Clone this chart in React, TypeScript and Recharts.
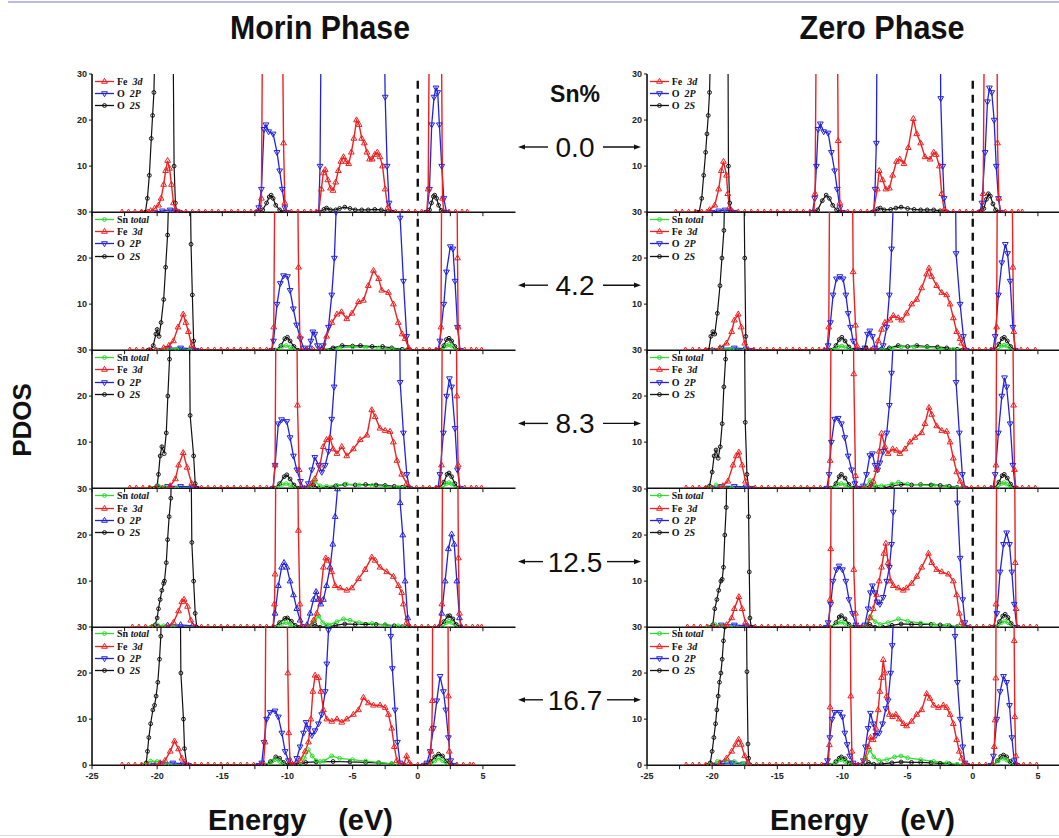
import React from "react";
import { LineChart, Line, XAxis, YAxis, ReferenceLine } from "recharts";

type Pt = [number, number];

// ---- energy grid ticks / labels ----
const X_TICKS = [-25, -22.5, -20, -17.5, -15, -12.5, -10, -7.5, -5, -2.5, 0, 2.5, 5];
const Y_TICKS = [10, 20, 30];
const Y_TICKS_LAST = [0, 10, 20, 30];
const SN_LEVELS = ["0.0", "4.2", "8.3", "12.5", "16.7"];
const PHASES = ["Morin Phase", "Zero Phase"];

// ---- Morin phase, Sn 0.0 % ----
const M0_FE: Pt[] = [[-22.7,0],[-22.2,0],[-21.7,0],[-21.2,0],[-20.7,0],[-20.5,0.3],[-20.2,0.8],[-19.9,1.5],[-19.7,3],[-19.5,6],[-19.35,9],[-19.2,11.2],[-19.05,9.5],[-18.9,6],[-18.75,2],[-18.6,0.3],[-18.3,0],[-17.8,0],[-17.3,0],[-16.8,0],[-16.3,0],[-15.8,0],[-15.3,0],[-14.8,0],[-14.3,0],[-13.8,0],[-13.3,0],[-12.8,0],[-12.4,0],[-12.1,0],[-12.0,3],[-11.9,45],[-11.1,60],[-10.4,45],[-10.3,15],[-10.2,2],[-10.1,0],[-9.7,0],[-9.2,0],[-8.7,0],[-8.2,0],[-7.8,0],[-7.6,0],[-7.4,5],[-7.25,8.5],[-7.1,9.2],[-6.9,7],[-6.7,5.2],[-6.5,4.7],[-6.3,6.5],[-6.1,9],[-5.9,11],[-5.7,12],[-5.5,11],[-5.3,10.5],[-5.1,13],[-4.9,16],[-4.7,20],[-4.5,19],[-4.3,16],[-4.1,15],[-3.9,13],[-3.7,11.5],[-3.5,11.5],[-3.3,12.5],[-3.1,13],[-2.9,12],[-2.7,10],[-2.5,5],[-2.3,1],[-2.1,0],[-1.7,0],[-1.2,0],[-0.7,0],[-0.2,0],[0.3,0],[0.7,0],[0.8,5],[0.9,45],[1.35,60],[1.8,45],[1.9,3],[2.0,0],[2.4,0],[2.9,0],[3.4,0],[3.8,0]];
const M0_O2P: Pt[] = [[-20.2,0],[-19.6,0.3],[-19.0,0.5],[-18.6,0.3],[-18.3,0],[-12.3,0],[-12.2,1],[-12.0,5],[-11.8,18],[-11.65,19],[-11.45,17.5],[-11.1,17],[-10.8,13],[-10.6,9],[-10.4,5],[-10.2,1],[-10.05,0],[-7.6,0],[-7.5,10],[-7.4,45],[-5,60],[-2.6,45],[-2.5,25],[-2.35,10],[-2.2,2],[-2.0,0],[0.7,0],[0.9,5],[1.07,19],[1.25,25],[1.4,27],[1.53,26],[1.66,19],[1.84,10],[2.0,3],[2.2,0]];
const M0_O2S: Pt[] = [[-21.2,0],[-20.9,0],[-20.75,3],[-20.6,8],[-20.45,16],[-20.35,21],[-20.25,26],[-20.1,45],[-19.4,60],[-18.8,45],[-18.7,10],[-18.6,2],[-18.5,0],[-12.2,0],[-11.9,0.5],[-11.6,2],[-11.4,3.3],[-11.25,3.7],[-11.1,3],[-10.9,1.5],[-10.6,0.5],[-10.3,0],[-7.6,0],[-7.2,0.6],[-7.0,0.9],[-6.7,0.5],[-6.3,0.5],[-6.0,0.8],[-5.6,1.1],[-5.2,0.8],[-4.8,0.5],[-4.3,0.5],[-3.8,0.5],[-3.3,0.6],[-2.8,0.5],[-2.3,0.2],[-2.0,0],[0.7,0],[0.9,0.5],[1.05,2],[1.2,3.4],[1.3,3.7],[1.45,3],[1.6,1.5],[1.8,0.4],[2.0,0]];

// ---- Zero phase, Sn 0.0 % ----
const Z0_FE: Pt[] = [[-22.8,0],[-22.3,0],[-21.8,0],[-21.3,0],[-20.8,0],[-20.4,0],[-20.2,0.5],[-19.8,1.5],[-19.5,5],[-19.3,9],[-19.13,11],[-18.9,8],[-18.8,4],[-18.67,1],[-18.5,0],[-18.0,0],[-17.5,0],[-17,0],[-16.5,0],[-16,0],[-15.5,0],[-15,0],[-14.5,0],[-14,0],[-13.5,0],[-13,0],[-12.5,0],[-12.2,0],[-12.1,4],[-12.0,45],[-11.2,60],[-10.4,45],[-10.33,15.5],[-10.2,2],[-10.1,0],[-9.6,0],[-9.1,0],[-8.6,0],[-8.1,0],[-7.64,0],[-7.33,5],[-7.18,9],[-6.92,7],[-6.67,5],[-6.4,5.2],[-6.15,8],[-5.85,11],[-5.6,11.5],[-5.28,10.5],[-4.95,14],[-4.56,20.3],[-4.3,17],[-4.0,15],[-3.67,12],[-3.28,11.5],[-3.0,13],[-2.82,12.5],[-2.56,10],[-2.38,4],[-2.2,0.5],[-2.0,0],[-1.5,0],[-1.0,0],[-0.5,0],[0,0],[0.5,0],[0.7,0],[0.8,4],[0.9,45],[1.4,60],[1.85,45],[1.9,15],[2.0,3],[2.1,0],[2.5,0],[3.0,0],[3.5,0],[3.8,0]];
const Z0_O2P: Pt[] = [[-20,0],[-19.5,0.3],[-19,0.5],[-18.6,0.3],[-18.3,0],[-12.3,0],[-12.13,3],[-12.0,10],[-11.87,18],[-11.7,19.2],[-11.44,17.5],[-11.1,17.2],[-10.85,13],[-10.6,9],[-10.4,5],[-10.2,1],[-10.0,0],[-7.6,0],[-7.5,5],[-7.4,15],[-7.33,45],[-5,60],[-2.5,45],[-2.46,24.7],[-2.3,10],[-2.2,3],[-2.05,0],[0.55,0],[0.7,2],[0.95,13],[1.13,24],[1.28,27],[1.46,26],[1.64,20],[1.8,10],[1.97,3],[2.15,0]];
const Z0_O2S: Pt[] = [[-21.2,0],[-21,0],[-20.8,3],[-20.65,8],[-20.5,13],[-20.4,17],[-20.3,21],[-20.2,26],[-20.05,45],[-19.4,60],[-18.8,45],[-18.75,10],[-18.65,2],[-18.55,0],[-12.2,0],[-11.9,0.5],[-11.55,2.5],[-11.25,3.7],[-11.0,3],[-10.75,1.5],[-10.45,0.5],[-10.2,0],[-7.7,0],[-7.3,0.7],[-7.1,0.9],[-6.8,0.5],[-6.3,0.6],[-5.9,0.9],[-5.5,1.1],[-5.0,0.8],[-4.5,0.6],[-4.0,0.5],[-3.5,0.5],[-3.0,0.5],[-2.5,0.3],[-2.1,0],[0.6,0],[0.85,0.8],[1.05,2.8],[1.2,4],[1.35,3.5],[1.55,1.8],[1.75,0.5],[1.95,0]];

// ---- Morin phase, Sn 4.2 % ----
const M4_FE: Pt[] = [[-22.1,0],[-21.6,0],[-21.1,0],[-20.6,0],[-20.1,0],[-19.5,0.5],[-19.1,1],[-18.75,2],[-18.4,5],[-18.0,7.8],[-17.8,6],[-17.6,4],[-17.35,1],[-17.1,0],[-16.6,0],[-16.1,0],[-15.6,0],[-15.1,0],[-14.6,0],[-14.1,0],[-13.6,0],[-13.1,0],[-12.6,0],[-12.1,0],[-11.6,0],[-11.2,0],[-11.05,5],[-10.95,45],[-10.1,60],[-9.25,45],[-9.15,18],[-9.05,3],[-8.95,0],[-8.5,0],[-8.0,0],[-7.6,0],[-7.25,0],[-7.0,3],[-6.6,6],[-6.2,7.8],[-5.85,8.3],[-5.45,6.8],[-5.05,8],[-4.55,10.5],[-4.17,10.8],[-3.8,14],[-3.4,17.3],[-3.0,15.5],[-2.76,13],[-2.25,12.5],[-1.87,10],[-1.5,6],[-1.2,3.5],[-0.97,2.5],[-0.7,0.5],[-0.6,0],[-0.1,0],[0.4,0],[0.9,0],[1.4,0],[1.65,0],[1.78,5],[1.85,45],[2.45,60],[3.0,45],[3.05,20],[3.1,5],[3.2,0],[3.6,0],[4.1,0],[4.5,0],[4.9,0]];
const M4_O2P: Pt[] = [[-20,0],[-19.2,0.4],[-18.2,0.5],[-17.3,0.3],[-17,0],[-11.2,0],[-11.07,2],[-10.8,10],[-10.55,14.5],[-10.3,16.2],[-10.0,16],[-9.8,13],[-9.55,9],[-9.3,5.5],[-9.0,2.5],[-8.77,0.5],[-8.5,0],[-8.3,0.5],[-8.2,2],[-8.05,4],[-7.9,3.5],[-7.7,1],[-7.5,0.3],[-7.25,1],[-6.85,5],[-6.6,12],[-6.4,20],[-6.27,30],[-6.15,45],[-3.8,60],[-1.45,45],[-1.35,28.7],[-1.1,15],[-0.85,3],[-0.7,0],[1.55,0],[1.7,2],[2.0,10],[2.2,17],[2.5,22.5],[2.7,22],[2.86,15],[3.05,5],[3.25,0]];
const M4_O2S: Pt[] = [[-20.7,0],[-20.5,0],[-20.3,1],[-20.1,3.5],[-20.0,4.5],[-19.85,3],[-19.7,6],[-19.5,11],[-19.35,18],[-19.2,25],[-19.0,45],[-18.2,60],[-17.5,45],[-17.4,23],[-17.3,12],[-17.2,2],[-17.1,0],[-10.9,0],[-10.5,1],[-10.2,2.5],[-10.0,2.8],[-9.8,2],[-9.5,0.8],[-9.2,0],[-7.2,0],[-6.5,0.5],[-5.8,1],[-5.0,0.9],[-4.4,1],[-3.5,0.8],[-2.7,0.8],[-2.0,0.5],[-1.2,0.2],[-0.8,0],[1.7,0],[2.0,1],[2.2,2.3],[2.4,2.6],[2.6,2],[2.85,0.8],[3.1,0]];
const M4_SN: Pt[] = [[-20,0],[-19.3,0.3],[-18.5,0.2],[-17.5,0],[-10.8,0],[-10.4,0.8],[-10.1,1.0],[-9.8,0.7],[-9.5,0],[-7,0],[-6.0,0.5],[-5,0.7],[-4,0.6],[-3,0.5],[-2,0.3],[-1,0],[1.9,0],[2.2,1.0],[2.4,1.2],[2.6,0.9],[2.9,0]];

// ---- Zero phase, Sn 4.2 % ----
const Z4_FE: Pt[] = [[-22.05,0],[-21.5,0],[-21,0],[-20.5,0],[-20,0],[-19.4,0.5],[-18.9,1.5],[-18.5,4],[-18.3,6.5],[-18.0,7.8],[-17.77,5],[-17.5,1.5],[-17.26,0],[-16.8,0],[-16.3,0],[-15.8,0],[-15.3,0],[-14.8,0],[-14.3,0],[-13.8,0],[-13.3,0],[-12.8,0],[-12.3,0],[-11.8,0],[-11.4,0],[-11.2,0],[-11.05,5],[-10.97,45],[-10.1,60],[-9.25,45],[-9.18,17],[-9.0,5.4],[-8.9,1],[-8.8,0],[-8.2,0],[-7.8,0],[-7.5,0],[-7.26,2],[-7.0,4.5],[-6.74,6],[-6.36,6.5],[-6.1,7.5],[-5.72,7],[-5.46,6.5],[-5.08,8],[-4.69,10],[-4.3,11],[-3.92,13.5],[-3.54,16.5],[-3.36,17.8],[-3.15,16],[-2.77,14],[-2.38,12.5],[-2.0,12],[-1.74,10],[-1.49,7],[-1.23,4],[-0.97,2.5],[-0.85,1.5],[-0.67,0.3],[-0.5,0],[0,0],[0.5,0],[1.0,0],[1.4,0],[1.7,0],[1.83,5],[1.9,45],[2.45,60],[3.0,45],[3.08,18],[3.15,4],[3.25,0],[3.7,0],[4.2,0],[4.8,0]];
const Z4_O2P: Pt[] = [[-20,0],[-19.3,0.4],[-18.3,0.5],[-17.4,0.3],[-17,0],[-11.25,0],[-11.1,1],[-10.92,6],[-10.72,12],[-10.46,15.5],[-10.2,16],[-9.95,15.5],[-9.74,12],[-9.56,8],[-9.38,5],[-9.18,2],[-8.92,0],[-8.5,0],[-8.28,0.5],[-8.08,3.5],[-7.9,4.2],[-7.7,3],[-7.5,0.5],[-7.33,0],[-6.87,1],[-6.6,5],[-6.4,12],[-6.23,22],[-6.1,32],[-6.0,45],[-3.7,60],[-1.35,45],[-1.28,21],[-0.97,10],[-0.72,3],[-0.5,0],[1.55,0],[1.72,3],[1.97,12],[2.23,19],[2.5,23],[2.67,21],[2.87,15],[3.08,5],[3.26,0]];
const Z4_O2S: Pt[] = [[-20.5,0],[-20.26,0],[-20.1,3],[-19.95,4],[-19.8,3.5],[-19.6,8],[-19.4,14],[-19.25,20],[-19.1,26],[-18.95,45],[-18.3,60],[-17.6,45],[-17.5,20],[-17.42,3],[-17.35,0],[-10.9,0],[-10.5,1],[-10.25,2.3],[-10.05,2.8],[-9.8,2],[-9.5,0.7],[-9.2,0],[-8.6,0],[-8.2,0.5],[-7.8,0],[-7.0,0],[-6.4,0.5],[-5.72,1.0],[-5.0,0.8],[-4.3,1.0],[-3.5,0.8],[-2.7,0.7],[-2.0,0.5],[-1.2,0.2],[-0.8,0],[1.7,0],[2.0,1.3],[2.25,2.5],[2.42,2.8],[2.65,2],[2.9,0.8],[3.15,0]];
const Z4_SN: Pt[] = [[-20,0],[-19.4,0.3],[-18.5,0.2],[-17.5,0],[-10.7,0],[-10.35,0.7],[-10.05,0.9],[-9.75,0.6],[-9.4,0],[-7,0],[-6.2,0.4],[-5.5,0.7],[-4.5,0.7],[-3.5,0.6],[-2.5,0.4],[-1.5,0.2],[-1,0],[1.9,0],[2.2,0.9],[2.4,1.1],[2.6,0.9],[2.9,0]];

// ---- Morin phase, Sn 8.3 % ----
const M8_FE: Pt[] = [[-22.1,0],[-21.6,0],[-21.1,0],[-20.6,0],[-20.1,0],[-19.6,0],[-19.0,0.5],[-18.6,2],[-18.35,5],[-18.0,7.7],[-17.7,4.5],[-17.35,1],[-17.1,0],[-16.6,0],[-16.1,0],[-15.6,0],[-15.1,0],[-14.6,0],[-14.1,0],[-13.6,0],[-13.1,0],[-12.6,0],[-12.1,0],[-11.6,0],[-11.1,0],[-10.95,5],[-10.87,45],[-10.05,60],[-9.3,45],[-9.23,18],[-9.1,4],[-9.0,0],[-8.7,0],[-8.4,0],[-8.13,1],[-7.9,2],[-7.5,5],[-7.25,9],[-7.0,10.5],[-6.73,11],[-6.5,8.5],[-6.2,7.5],[-5.83,9],[-5.45,7],[-4.94,8.5],[-4.42,10.5],[-3.9,11.5],[-3.53,17],[-3.27,15.5],[-2.9,13],[-2.5,12.5],[-2.12,12.3],[-1.87,10],[-1.6,6],[-1.23,3],[-0.84,1],[-0.6,0],[-0.1,0],[0.4,0],[0.9,0],[1.4,0],[1.7,0],[1.82,5],[1.9,45],[2.45,60],[2.95,45],[3.0,20],[3.1,5],[3.2,0],[3.6,0],[4.1,0],[4.5,0],[4.9,0]];
const M8_O2P: Pt[] = [[-20,0],[-19.2,0.4],[-18.2,0.4],[-17.3,0.3],[-17,0],[-11.1,0],[-10.95,5],[-10.7,14],[-10.45,14.9],[-10.05,14.5],[-9.8,11],[-9.54,7],[-9.28,4],[-9.0,1.5],[-8.77,0],[-8.6,0],[-8.4,1],[-8.13,4],[-7.9,6.7],[-7.6,5],[-7.37,3.5],[-7.1,5],[-6.85,8],[-6.6,15],[-6.42,22],[-6.2,32],[-6.1,45],[-3.7,60],[-1.42,45],[-1.35,23],[-1.1,12],[-0.84,3],[-0.64,0],[1.55,0],[1.7,3],[1.97,12],[2.22,20],[2.43,23.8],[2.6,22],[2.86,13],[3.04,4],[3.25,0]];
const M8_O2S: Pt[] = [[-20.5,0],[-20.2,0],[-20.0,0.5],[-19.9,3],[-19.77,7],[-19.64,9],[-19.46,7.5],[-19.3,12],[-19.18,20],[-19.05,28],[-18.93,45],[-18.2,60],[-17.55,45],[-17.47,15.8],[-17.2,7],[-17.08,1],[-16.96,0],[-11.0,0],[-10.6,1],[-10.25,2.5],[-10.05,2.9],[-9.8,2],[-9.5,0.7],[-9.2,0],[-8.4,0],[-8.0,0.7],[-7.6,0],[-7.0,0],[-6.3,0.5],[-5.6,0.8],[-4.8,0.7],[-4.0,0.8],[-3.2,0.7],[-2.5,0.6],[-1.8,0.4],[-1.2,0.2],[-0.8,0],[1.7,0],[2.0,1.3],[2.25,3],[2.4,3.3],[2.6,2.5],[2.85,1],[3.1,0]];
const M8_SN: Pt[] = [[-20.4,0],[-19.9,0.5],[-19.4,0.2],[-18.5,0],[-10.8,0],[-10.4,0.8],[-10.1,1.0],[-9.8,0.7],[-9.5,0],[-8.3,0],[-7.9,1.5],[-7.5,0.5],[-7.0,0.4],[-6.2,0.6],[-5.5,0.9],[-4.5,0.7],[-3.5,0.6],[-2.5,0.4],[-1.5,0.2],[-1,0],[1.9,0],[2.2,1.0],[2.4,1.2],[2.6,0.9],[2.9,0]];

// ---- Zero phase, Sn 8.3 % ----
const Z8_FE: Pt[] = [[-22,0],[-21.5,0],[-21,0],[-20.5,0],[-20,0],[-19.5,0],[-19.18,0.5],[-18.8,1.5],[-18.4,5],[-18.15,7],[-17.95,7.8],[-17.7,5],[-17.44,1.5],[-17.2,0],[-16.7,0],[-16.2,0],[-15.7,0],[-15.2,0],[-14.7,0],[-14.2,0],[-13.7,0],[-13.2,0],[-12.7,0],[-12.2,0],[-11.7,0],[-11.1,0],[-10.95,6],[-10.85,45],[-10.0,60],[-9.2,45],[-9.13,24.8],[-9.0,2.7],[-8.9,0],[-8.4,0],[-7.9,0],[-7.64,1.5],[-7.38,4],[-7.18,8],[-7.0,11.9],[-6.74,9],[-6.5,7.5],[-6.15,8.5],[-5.85,8.2],[-5.6,7.5],[-5.2,8.5],[-4.82,10],[-4.44,11],[-3.92,12],[-3.67,14],[-3.36,17.5],[-3.15,16],[-2.77,13.5],[-2.38,12.5],[-2.0,12.3],[-1.74,10],[-1.49,6.5],[-1.23,3.5],[-0.97,1.5],[-0.77,0.3],[-0.6,0],[-0.1,0],[0.4,0],[0.9,0],[1.4,0],[1.65,0],[1.78,5],[1.85,45],[2.45,60],[3.05,45],[3.13,18],[3.2,4],[3.3,0],[3.8,0],[4.3,0],[4.8,0]];
const Z8_O2P: Pt[] = [[-20,0],[-19.3,0.4],[-18.3,0.4],[-17.4,0.3],[-17,0],[-11.2,0],[-11.03,3],[-10.85,10],[-10.6,15],[-10.33,15.2],[-10.08,14],[-9.82,11],[-9.56,7],[-9.3,4],[-9.05,1],[-8.87,0],[-8.6,0],[-8.4,0.5],[-8.15,3],[-7.9,7.1],[-7.7,7.5],[-7.5,5],[-7.3,4],[-7.13,5.5],[-6.87,8],[-6.6,12],[-6.4,18],[-6.23,25],[-6.1,32],[-6.0,45],[-3.7,60],[-1.35,45],[-1.28,23],[-1.03,12],[-0.8,3],[-0.6,0],[1.55,0],[1.72,3],[1.97,12],[2.23,20],[2.44,24],[2.6,22],[2.87,14],[3.08,5],[3.26,0]];
const Z8_O2S: Pt[] = [[-20.5,0],[-20.2,0.5],[-20.0,3.5],[-19.85,7],[-19.7,8.3],[-19.54,6.5],[-19.38,9],[-19.23,14],[-19.1,22],[-18.97,28],[-18.87,45],[-18.2,60],[-17.55,45],[-17.46,14.3],[-17.33,3],[-17.2,0],[-10.9,0],[-10.5,1],[-10.25,2.5],[-10.08,3],[-9.8,2.2],[-9.5,0.8],[-9.2,0],[-8.3,0],[-7.8,0.8],[-7.4,0],[-6.8,0],[-6.2,0.5],[-5.5,0.8],[-4.7,0.7],[-4.0,0.8],[-3.2,0.7],[-2.5,0.6],[-1.8,0.4],[-1.2,0.2],[-0.8,0],[1.7,0],[2.0,1.3],[2.25,2.7],[2.42,3],[2.65,2.2],[2.9,0.9],[3.15,0]];
const Z8_SN: Pt[] = [[-20.2,0],[-19.7,0.7],[-19.2,0.3],[-18.5,0],[-10.7,0],[-10.35,0.8],[-10.1,1.0],[-9.8,0.7],[-9.4,0],[-8.3,0],[-7.9,1.7],[-7.5,0.6],[-7.0,0.5],[-6.2,0.9],[-5.7,1.3],[-5.0,0.9],[-4.0,0.7],[-3.0,0.6],[-2.0,0.4],[-1.2,0.1],[-0.8,0],[1.9,0],[2.2,1.0],[2.4,1.2],[2.6,0.9],[2.9,0]];

// ---- Morin phase, Sn 12.5 % ----
const M12_FE: Pt[] = [[-21.9,0],[-21.4,0],[-20.9,0],[-20.4,0],[-19.9,0],[-19.3,0],[-18.75,1],[-18.36,3.5],[-18.1,5.5],[-17.93,6],[-17.67,4.5],[-17.42,1.5],[-17.08,0],[-16.6,0],[-16.1,0],[-15.6,0],[-15.1,0],[-14.6,0],[-14.1,0],[-13.6,0],[-13.1,0],[-12.6,0],[-12.1,0],[-11.6,0],[-11.1,0],[-11.0,5],[-10.95,11.5],[-10.87,45],[-10.0,60],[-9.25,45],[-9.16,21],[-9.05,5],[-8.95,0],[-8.65,0],[-8.4,0],[-8.0,1.5],[-7.75,3],[-7.5,6],[-7.24,13],[-7.06,15],[-6.85,14.5],[-6.6,12],[-6.34,9],[-5.96,8.5],[-5.45,8],[-5.06,8.5],[-4.55,10.5],[-4.04,12.5],[-3.53,15.2],[-3.27,14.5],[-2.89,13],[-2.38,12],[-1.87,11],[-1.48,9],[-1.23,7.5],[-1.1,5],[-0.84,1],[-0.64,0],[-0.2,0],[0.3,0],[0.8,0],[1.3,0],[1.7,0],[1.85,5],[1.92,45],[2.5,60],[3.05,45],[3.12,15],[3.2,3],[3.3,0],[3.7,0],[4.2,0],[4.6,0],[4.9,0]];
const M12_O2P: Pt[] = [[-20,0],[-19.2,0.4],[-18.2,0.5],[-17.3,0.3],[-17,0],[-11.1,0],[-10.95,3],[-10.7,9],[-10.45,13],[-10.26,14],[-10.05,13],[-9.8,10],[-9.54,7],[-9.28,4],[-9.03,1.5],[-8.77,0],[-8.6,0],[-8.5,0.5],[-8.26,3],[-8.0,6],[-7.8,7.7],[-7.62,6],[-7.44,5],[-7.24,6],[-7.0,9],[-6.73,13],[-6.52,18],[-6.34,24],[-6.16,30],[-6.05,45],[-3.7,60],[-1.42,45],[-1.35,27],[-1.15,20],[-0.97,10],[-0.77,2],[-0.6,0],[1.6,0],[1.84,3],[2.1,10],[2.35,17],[2.6,20.2],[2.8,18],[3.0,10],[3.2,2],[3.37,0]];
const M12_O2S: Pt[] = [[-20.4,0],[-20.15,0.5],[-20.0,2],[-19.9,4],[-19.77,6],[-19.64,8],[-19.5,9.5],[-19.44,10],[-19.3,14],[-19.2,19],[-19.08,24],[-18.95,28],[-18.83,45],[-18.1,60],[-17.42,45],[-17.34,18.4],[-17.2,10],[-17.08,3],[-16.96,0],[-11.0,0],[-10.6,1],[-10.2,1.9],[-10.0,2],[-9.7,1.3],[-9.4,0.4],[-9.1,0],[-8.3,0],[-7.9,0.6],[-7.5,0],[-7.0,0],[-6.3,0.4],[-5.6,0.7],[-4.8,0.6],[-4.0,0.6],[-3.2,0.6],[-2.5,0.5],[-1.8,0.3],[-1.2,0.1],[-0.8,0],[1.7,0],[2.0,1.2],[2.3,2.4],[2.45,2.5],[2.7,1.8],[2.95,0.6],[3.2,0]];
const M12_SN: Pt[] = [[-20.5,0],[-20.0,0.5],[-19.5,0.3],[-18.8,0],[-10.8,0],[-10.4,0.8],[-10.1,1.0],[-9.8,0.7],[-9.5,0],[-8.3,0],[-7.9,1.5],[-7.6,2.4],[-7.3,1.0],[-7.0,0.5],[-6.8,0.5],[-6.2,1.2],[-5.7,1.8],[-5.2,1.5],[-4.5,1.0],[-3.5,0.8],[-2.5,0.5],[-1.5,0.3],[-1,0],[1.9,0],[2.2,1.0],[2.4,1.3],[2.6,1.0],[2.9,0]];

// ---- Zero phase, Sn 12.5 % ----
const Z12_FE: Pt[] = [[-21.9,0],[-21.4,0],[-20.9,0],[-20.4,0],[-19.9,0],[-19.4,0],[-18.9,0.5],[-18.5,2],[-18.3,4],[-17.95,6.6],[-17.7,4],[-17.44,1],[-17.2,0],[-16.7,0],[-16.2,0],[-15.7,0],[-15.2,0],[-14.7,0],[-14.2,0],[-13.7,0],[-13.2,0],[-12.7,0],[-12.2,0],[-11.7,0],[-11.05,0],[-10.95,6],[-10.9,17],[-10.85,45],[-10.0,60],[-9.2,45],[-9.13,12.5],[-9.0,3],[-8.9,0],[-8.5,0],[-8.15,0],[-7.9,2],[-7.64,4],[-7.38,7],[-7.18,10],[-7.0,13],[-6.82,16],[-6.67,18.2],[-6.5,14],[-6.3,10],[-6.1,9],[-5.72,8.5],[-5.33,8],[-5.08,8.5],[-4.7,9.5],[-4.3,11],[-3.92,13],[-3.4,16],[-3.15,14],[-2.77,12.5],[-2.38,12],[-1.87,11.5],[-1.49,10],[-1.23,7],[-1.03,3],[-0.85,1],[-0.67,0],[-0.2,0],[0.3,0],[0.8,0],[1.3,0],[1.65,0],[1.78,5],[1.85,45],[2.5,60],[3.2,45],[3.26,14],[3.32,4],[3.4,0],[3.9,0],[4.4,0],[4.9,0]];
const Z12_O2P: Pt[] = [[-20,0],[-19.3,0.5],[-18.3,0.5],[-17.4,0.3],[-17,0],[-11.25,0],[-11.1,1],[-10.9,5],[-10.72,10],[-10.46,12.5],[-10.26,13.3],[-10.0,12.5],[-9.74,10],[-9.5,6],[-9.23,3],[-8.97,0.5],[-8.8,0],[-8.5,0],[-8.28,0.5],[-8.03,4],[-7.85,7.5],[-7.7,9],[-7.5,7.5],[-7.33,5.5],[-7.13,5],[-6.87,6.5],[-6.6,10],[-6.4,13],[-6.23,18],[-6.1,25],[-5.97,33],[-5.85,45],[-3.5,60],[-1.25,45],[-1.18,27],[-0.97,15],[-0.77,6],[-0.6,1],[-0.46,0],[1.6,0],[1.85,3],[2.1,12],[2.36,18],[2.6,20.5],[2.82,18],[3.0,12],[3.18,5],[3.38,0]];
const Z12_O2S: Pt[] = [[-20.3,0],[-19.95,0.5],[-19.8,4],[-19.64,6],[-19.5,8],[-19.33,10],[-19.23,10.4],[-19.13,13],[-19.03,20],[-18.92,26],[-18.82,45],[-18.0,60],[-17.3,45],[-17.2,24],[-17.15,12],[-17.1,2],[-17.0,0],[-10.9,0],[-10.5,1],[-10.25,2.2],[-10.08,2.5],[-9.8,1.8],[-9.5,0.6],[-9.2,0],[-8.3,0],[-7.9,0.6],[-7.5,0],[-6.9,0],[-6.2,0.4],[-5.5,0.7],[-4.7,0.6],[-4.0,0.6],[-3.2,0.6],[-2.5,0.5],[-1.8,0.3],[-1.2,0.1],[-0.8,0],[1.75,0],[2.05,1.2],[2.3,2.4],[2.49,2.8],[2.7,2.1],[2.95,0.8],[3.2,0]];
const Z12_SN: Pt[] = [[-20.3,0],[-19.8,0.6],[-19.3,0.3],[-18.6,0],[-10.8,0],[-10.4,0.9],[-10.1,1.1],[-9.8,0.8],[-9.4,0],[-8.3,0],[-7.85,2.4],[-7.5,1.2],[-7.1,0.6],[-6.5,1.0],[-5.7,1.8],[-5.0,1.3],[-4.0,0.9],[-3.0,0.6],[-2.0,0.4],[-1.2,0.1],[-0.8,0],[1.9,0],[2.2,1.0],[2.45,1.3],[2.7,1.0],[3.0,0]];

// ---- Morin phase, Sn 16.7 % ----
const M16_FE: Pt[] = [[-22.7,0],[-22.2,0],[-21.7,0],[-21.2,0],[-20.7,0],[-20.2,0],[-19.77,0.5],[-19.4,1],[-19.0,3],[-18.67,5.2],[-18.36,3.5],[-18.1,1.5],[-17.85,0.3],[-17.6,0],[-17.1,0],[-16.6,0],[-16.1,0],[-15.6,0],[-15.1,0],[-14.6,0],[-14.1,0],[-13.6,0],[-13.1,0],[-12.6,0],[-12.1,0],[-11.85,0],[-11.72,5],[-11.64,45],[-10.8,60],[-10.05,45],[-9.97,20],[-9.9,7],[-9.8,1],[-9.7,0],[-9.54,0],[-9.03,1],[-8.64,3],[-8.39,5],[-8.2,10],[-8.05,16],[-7.88,19.5],[-7.62,19],[-7.44,16],[-7.24,12],[-6.98,10],[-6.6,9.5],[-6.2,10],[-5.83,9.3],[-5.45,10],[-4.94,11],[-4.55,12],[-4.17,14.7],[-3.79,13.5],[-3.4,13],[-2.89,13],[-2.5,12.5],[-2.25,11],[-2.0,8],[-1.8,4],[-1.6,1],[-1.4,0],[-1.1,0],[-0.85,2],[-0.65,0.5],[-0.5,0],[0,0],[0.5,0],[0.9,0],[1.0,3],[1.08,8],[1.12,14],[1.15,45],[1.7,60],[2.3,45],[2.35,15],[2.42,3],[2.5,0],[3.0,0],[3.5,0],[4.0,0],[4.27,0]];
const M16_O2P: Pt[] = [[-20.3,0],[-19.6,0.4],[-18.8,0.5],[-18.0,0.3],[-17.6,0],[-12.2,0],[-11.97,0.5],[-11.8,5],[-11.6,10],[-11.33,11.5],[-10.95,11.8],[-10.7,10.5],[-10.43,7],[-10.18,3],[-9.92,1],[-9.67,0],[-9.54,0],[-9.28,1.5],[-9.03,4],[-8.77,7],[-8.57,9.3],[-8.39,8],[-8.13,6.5],[-7.88,7.5],[-7.62,9],[-7.37,11],[-7.1,16],[-6.98,22],[-6.85,29.3],[-6.75,45],[-4.4,60],[-2.15,45],[-2.07,28],[-1.95,21],[-1.74,12],[-1.56,5],[-1.36,0.5],[-1.15,0],[0.5,0],[0.7,0.5],[0.95,3],[1.2,8],[1.46,14],[1.71,19.3],[1.97,16],[2.15,12],[2.35,6],[2.53,1],[2.74,0]];
const M16_O2S: Pt[] = [[-21.1,0],[-20.84,0.5],[-20.74,3],[-20.64,6],[-20.5,9],[-20.33,12],[-20.2,13],[-20.08,15],[-19.95,18],[-19.82,23],[-19.72,28],[-19.6,45],[-18.9,60],[-18.25,45],[-18.18,20],[-17.98,10],[-17.9,3.6],[-17.72,0],[-11.7,0],[-11.3,0.8],[-10.9,1.8],[-10.6,1.5],[-10.3,0.6],[-10.0,0],[-9.2,0],[-8.6,0.6],[-7.8,0.7],[-6.5,0.8],[-5.2,0.7],[-4,0.6],[-3,0.5],[-2,0.3],[-1.5,0],[0.6,0],[1.0,0.8],[1.3,1.8],[1.6,2.4],[1.9,2],[2.2,0.9],[2.5,0]];
const M16_SN: Pt[] = [[-21,0],[-20.5,0.9],[-20,0.8],[-19.5,0.4],[-19,0],[-11.6,0],[-11.2,0.8],[-10.95,1.2],[-10.6,0.8],[-10.3,0],[-9.0,0],[-8.7,1.5],[-8.4,3.4],[-8.1,2],[-7.8,1],[-7.5,0.8],[-7.2,0.9],[-6.6,2.0],[-6.0,1.5],[-5,1.2],[-4,0.9],[-3,0.6],[-2,0.3],[-1.5,0],[1.0,0],[1.3,0.9],[1.6,1.5],[1.9,1.0],[2.2,0]];

// ---- Zero phase, Sn 16.7 % ----
const Z16_FE: Pt[] = [[-22,0],[-21.5,0],[-21,0],[-20.5,0],[-20,0],[-19.4,0.5],[-18.9,1.5],[-18.5,3],[-18.2,4.5],[-17.97,5.6],[-17.77,4.5],[-17.5,2],[-17.26,0.5],[-17.1,0],[-16.6,0],[-16.1,0],[-15.6,0],[-15.1,0],[-14.6,0],[-14.1,0],[-13.6,0],[-13.1,0],[-12.6,0],[-12.1,0],[-11.6,0],[-11.1,0],[-11.0,4.4],[-10.95,12.6],[-10.9,45],[-10.1,60],[-9.42,45],[-9.36,15],[-9.28,3],[-9.2,0],[-8.8,0],[-8.54,0],[-8.28,1.5],[-8.03,4],[-7.85,6],[-7.64,5.5],[-7.44,8],[-7.26,12],[-7.13,16],[-7.0,19],[-6.87,22.9],[-6.74,20],[-6.6,15],[-6.4,11],[-6.15,10.5],[-5.9,11],[-5.64,10],[-5.33,9],[-5.08,8.5],[-4.7,9.5],[-4.3,11],[-3.92,12],[-3.54,15.5],[-3.28,14.5],[-3.0,13],[-2.64,12.5],[-2.26,13],[-2.0,12.5],[-1.74,11],[-1.49,9],[-1.23,5.5],[-1.03,3],[-0.85,1.5],[-0.67,0.5],[-0.5,0],[0,0],[0.5,0],[1.0,0],[1.55,0],[1.65,4],[1.72,9.8],[1.77,18.9],[1.8,45],[2.5,60],[3.15,45],[3.18,27],[3.23,10.5],[3.3,2],[3.4,0],[3.9,0],[4.4,0],[4.9,0]];
const Z16_O2P: Pt[] = [[-20,0],[-19.2,0.4],[-18.5,0.5],[-17.6,0.3],[-17.2,0],[-11.3,0],[-11.15,1],[-10.97,6],[-10.8,10],[-10.6,11.5],[-10.2,11.5],[-10.0,10.5],[-9.82,7],[-9.64,4.5],[-9.44,2],[-9.18,0.5],[-8.97,0],[-8.6,0],[-8.4,1],[-8.23,4],[-8.03,8],[-7.85,11.3],[-7.64,9],[-7.44,6.5],[-7.18,7],[-6.92,9],[-6.67,12.3],[-6.5,14],[-6.3,20],[-6.18,26],[-6.08,33],[-6.0,45],[-3.7,60],[-1.45,45],[-1.36,28],[-1.18,18],[-0.97,10],[-0.77,4],[-0.6,0.5],[-0.46,0],[1.4,0],[1.59,2],[1.85,10],[2.1,16],[2.36,19.3],[2.6,18],[2.82,13],[3.0,6],[3.18,1],[3.38,0]];
const Z16_O2S: Pt[] = [[-20.4,0],[-20.15,0.5],[-20.0,3],[-19.87,6],[-19.74,9],[-19.64,12],[-19.54,15],[-19.44,18],[-19.33,20],[-19.23,23],[-19.13,27],[-19.03,30],[-18.92,45],[-18.1,60],[-17.4,45],[-17.33,20.3],[-17.25,4.6],[-17.2,1.5],[-17.1,0],[-10.9,0],[-10.5,0.8],[-10.25,1.5],[-10.08,1.8],[-9.8,1.4],[-9.5,0.5],[-9.2,0],[-8.4,0],[-8.0,0.6],[-7.6,0.2],[-7.0,0.3],[-6.2,0.5],[-5.5,0.7],[-4.7,0.6],[-4.0,0.6],[-3.2,0.5],[-2.5,0.4],[-1.8,0.3],[-1.2,0.1],[-0.8,0],[1.6,0],[1.9,1],[2.15,1.9],[2.36,2.2],[2.6,1.8],[2.85,0.8],[3.1,0]];
const Z16_SN: Pt[] = [[-20.2,0],[-19.6,0.8],[-19,1.0],[-18.3,0.8],[-17.6,0.3],[-17.2,0],[-10.8,0],[-10.4,0.9],[-10.1,1.2],[-9.8,0.8],[-9.4,0],[-8.5,0],[-8.2,1.5],[-7.9,3.3],[-7.6,1.8],[-7.2,1.0],[-6.6,1.2],[-6.0,1.8],[-5.5,2.0],[-5.0,1.6],[-4.0,1.2],[-3.0,0.8],[-2.0,0.5],[-1.2,0.2],[-0.8,0],[1.6,0],[1.95,0.9],[2.3,1.5],[2.6,1.1],[2.95,0]];

type Panel = { col: number; row: number; fe: Pt[]; o2p: Pt[]; o2s: Pt[]; sn?: Pt[]; o2pUp?: boolean };

const PANELS: Panel[] = [
  { col: 0, row: 0, fe: M0_FE, o2p: M0_O2P, o2s: M0_O2S },
  { col: 1, row: 0, fe: Z0_FE, o2p: Z0_O2P, o2s: Z0_O2S },
  { col: 0, row: 1, fe: M4_FE, o2p: M4_O2P, o2s: M4_O2S, sn: M4_SN },
  { col: 1, row: 1, fe: Z4_FE, o2p: Z4_O2P, o2s: Z4_O2S, sn: Z4_SN },
  { col: 0, row: 2, fe: M8_FE, o2p: M8_O2P, o2s: M8_O2S, sn: M8_SN },
  { col: 1, row: 2, fe: Z8_FE, o2p: Z8_O2P, o2s: Z8_O2S, sn: Z8_SN },
  { col: 0, row: 3, fe: M12_FE, o2p: M12_O2P, o2s: M12_O2S, sn: M12_SN, o2pUp: true },
  { col: 1, row: 3, fe: Z12_FE, o2p: Z12_O2P, o2s: Z12_O2S, sn: Z12_SN },
  { col: 0, row: 4, fe: M16_FE, o2p: M16_O2P, o2s: M16_O2S, sn: M16_SN },
  { col: 1, row: 4, fe: Z16_FE, o2p: Z16_O2P, o2s: Z16_O2S, sn: Z16_SN },
];

// ---- layout ----
const PLOT_TOP = 74;
const PLOT_H = 138.2;
const PLOT_W = 423.5;
const COL_X = [92, 646.7];
const YW = 32;
const M_TOP = 8; // room for the "30" label above the frame
const M_RIGHT = 1;
const XH = 22;
const CHART_W = YW + PLOT_W + M_RIGHT;
const CHART_H = M_TOP + PLOT_H + XH;

const RED = "#ee2020";
const BLUE = "#2222dd";
const GREEN = "#2ddc2d";
const BLACK = "#111";

type Shape = "up" | "down" | "circle";

const toRows = (pts: Pt[]) => pts.map(([e, v]) => ({ e, v }));

function marker(shape: Shape, cx: number, cy: number, color: string, key?: string | number) {
  if (shape === "circle") {
    return <circle key={key} cx={cx} cy={cy} r={1.9} fill="none" stroke={color} strokeWidth={1} />;
  }
  const s = 3.2;
  const d =
    shape === "up"
      ? `M${cx},${cy - s}L${cx + s * 0.9},${cy + s * 0.55}L${cx - s * 0.9},${cy + s * 0.55}Z`
      : `M${cx},${cy + s}L${cx + s * 0.9},${cy - s * 0.55}L${cx - s * 0.9},${cy - s * 0.55}Z`;
  return <path key={key} d={d} fill="none" stroke={color} strokeWidth={1} />;
}

const dotFn = (shape: Shape, color: string) => (p: any) => {
  const { cx, cy, index } = p;
  if (cx == null || cy == null || !isFinite(cx) || !isFinite(cy)) return <g key={`d${index}`} />;
  return marker(shape, cx, cy, color, `d${index}`);
};

const tickFont = { fontFamily: "'Liberation Sans', Arial, sans-serif", fontSize: 9, fontWeight: 700, fill: "#222" };

const xTick = (show: boolean) => (p: any) => {
  const { x, y, payload } = p;
  if (!show || payload.value % 5 !== 0) return <g />;
  return (
    <text x={x} y={y} dy={8} textAnchor="middle" {...tickFont}>
      {payload.value}
    </text>
  );
};

type LegendItem = { label: string; sub: string; color: string; shape: Shape };

function PanelLegend({ items }: { items: LegendItem[] }) {
  return (
    <div
      style={{
        position: "absolute",
        left: YW + 2,
        top: M_TOP + 1,
        fontFamily: "'Liberation Serif', 'Times New Roman', serif",
        fontWeight: 700,
        fontSize: 10,
        color: "#111",
        pointerEvents: "none",
      }}
    >
      {items.map((it) => (
        <div key={it.label + it.sub} style={{ display: "flex", alignItems: "center", height: 12.3 }}>
          <svg width={21} height={9} style={{ display: "block" }}>
            <line x1={1} y1={4.5} x2={20} y2={4.5} stroke={it.color} strokeWidth={1.3} />
            {marker(it.shape, 10.5, 4.5, it.color)}
          </svg>
          <span style={{ marginLeft: 2, whiteSpace: "pre" }}>
            {it.label}
            <i>{it.sub}</i>
          </span>
        </div>
      ))}
    </div>
  );
}

function PdosPanel({ p }: { p: Panel }) {
  const last = p.row === 4;
  const o2pShape: Shape = p.o2pUp ? "up" : "down";
  const items: LegendItem[] = [];
  if (p.sn) items.push({ label: "Sn ", sub: "total", color: GREEN, shape: "circle" });
  items.push({ label: "Fe  ", sub: "3d", color: RED, shape: "up" });
  items.push({ label: "O  ", sub: "2P", color: BLUE, shape: o2pShape });
  items.push({ label: "O  ", sub: "2S", color: BLACK, shape: "circle" });

  return (
    <div
      style={{
        position: "absolute",
        left: COL_X[p.col] - YW,
        top: PLOT_TOP + p.row * PLOT_H - M_TOP,
        width: CHART_W,
        height: CHART_H,
      }}
    >
      <LineChart width={CHART_W} height={CHART_H} margin={{ top: M_TOP, right: M_RIGHT, left: 0, bottom: 0 }}>
        <XAxis
          type="number"
          dataKey="e"
          domain={[-25, 7.5]}
          allowDataOverflow
          ticks={X_TICKS}
          interval={0}
          height={XH}
          tickSize={4}
          tickLine={{ stroke: BLACK, strokeWidth: 1 }}
          axisLine={{ stroke: BLACK, strokeWidth: 1.6 }}
          tick={xTick(last)}
        />
        <XAxis
          xAxisId="top"
          orientation="top"
          type="number"
          domain={[-25, 7.5]}
          height={0}
          tick={false}
          tickLine={false}
          axisLine={{ stroke: BLACK, strokeWidth: 1.6 }}
        />
        <YAxis
          type="number"
          domain={[0, 30]}
          allowDataOverflow
          ticks={last ? Y_TICKS_LAST : Y_TICKS}
          interval={0}
          width={YW}
          tickSize={3}
          tickMargin={2}
          tickLine={{ stroke: BLACK, strokeWidth: 1 }}
          axisLine={{ stroke: BLACK, strokeWidth: 1.6 }}
          tick={tickFont}
        />
        <YAxis
          yAxisId="right"
          orientation="right"
          type="number"
          domain={[0, 30]}
          width={0}
          tick={false}
          tickLine={false}
          axisLine={{ stroke: BLACK, strokeWidth: 1.6 }}
        />
        <ReferenceLine
          segment={[{ x: 0, y: 2.5 }, { x: 0, y: 28.8 }]}
          stroke={BLACK}
          strokeWidth={2.4}
          strokeDasharray="8 6"
        />
        <Line
          data={toRows(p.o2p)}
          dataKey="v"
          type="linear"
          stroke={BLUE}
          strokeWidth={1.3}
          dot={dotFn(o2pShape, BLUE)}
          activeDot={false}
          isAnimationActive={false}
        />
        <Line
          data={toRows(p.o2s)}
          dataKey="v"
          type="linear"
          stroke={BLACK}
          strokeWidth={1.2}
          dot={dotFn("circle", BLACK)}
          activeDot={false}
          isAnimationActive={false}
        />
        {p.sn && (
          <Line
            data={toRows(p.sn)}
            dataKey="v"
            type="linear"
            stroke={GREEN}
            strokeWidth={1.3}
            dot={dotFn("circle", GREEN)}
            activeDot={false}
            isAnimationActive={false}
          />
        )}
        <Line
          data={toRows(p.fe)}
          dataKey="v"
          type="linear"
          stroke={RED}
          strokeWidth={1.4}
          dot={dotFn("up", RED)}
          activeDot={false}
          isAnimationActive={false}
        />
      </LineChart>
      <PanelLegend items={items} />
    </div>
  );
}

function Arrow({ x1, x2, y }: { x1: number; x2: number; y: number }) {
  // x2 is the tip
  const dir = Math.sign(x2 - x1);
  const hl = 7;
  return (
    <g>
      <line x1={x1} y1={y} x2={x2 - dir * hl * 0.6} y2={y} stroke="#111" strokeWidth={1.4} />
      <path d={`M${x2},${y}L${x2 - dir * hl},${y - 2.6}L${x2 - dir * hl},${y + 2.6}Z`} fill="#111" />
    </g>
  );
}

function Annotations() {
  const sans = "'Liberation Sans', Arial, sans-serif";
  const narrow = "'Liberation Sans Narrow', 'Liberation Sans', Arial, sans-serif";
  return (
    <svg width={1059} height={838} style={{ position: "absolute", left: 0, top: 0, pointerEvents: "none" }}>
      <line x1={8} y1={2} x2={1059} y2={2} stroke="#a3a3e6" strokeWidth={1.5} />
      <line x1={0} y1={835.5} x2={1059} y2={835.5} stroke="#dcdcdc" strokeWidth={1} />
      <text
        x={320}
        y={39}
        textAnchor="middle"
        fontFamily={narrow}
        fontWeight={700}
        fontSize={33}
        textLength={180}
        lengthAdjust="spacingAndGlyphs"
        fill="#111"
      >
        {PHASES[0]}
      </text>
      <text
        x={882}
        y={39}
        textAnchor="middle"
        fontFamily={narrow}
        fontWeight={700}
        fontSize={33}
        textLength={165}
        lengthAdjust="spacingAndGlyphs"
        fill="#111"
      >
        {PHASES[1]}
      </text>
      <text x={575} y={102} textAnchor="middle" fontFamily={sans} fontWeight={700} fontSize={23} fill="#111">
        Sn%
      </text>
      {SN_LEVELS.map((lv, i) => {
        const y = PLOT_TOP + i * PLOT_H + 73;
        const wide = lv.length > 3;
        return (
          <g key={lv}>
            <Arrow x1={wide ? 543 : 548} x2={518} y={y} />
            <text x={575} y={y + 10} textAnchor="middle" fontFamily={sans} fontSize={28} fill="#111">
              {lv}
            </text>
            <Arrow x1={wide ? 607 : 603} x2={641} y={y} />
          </g>
        );
      })}
      <text
        x={0}
        y={0}
        transform="translate(31,420) rotate(-90)"
        textAnchor="middle"
        fontFamily={sans}
        fontWeight={700}
        fontSize={26}
        fill="#111"
      >
        PDOS
      </text>
      {[208, 770].map((x0, i) => (
        <g key={i}>
          <text x={x0} y={830} fontFamily={sans} fontWeight={700} fontSize={29} fill="#111">
            Energy
          </text>
          <text x={x0 + 185} y={830} textAnchor="end" fontFamily={sans} fontWeight={700} fontSize={29} fill="#111">
            (eV)
          </text>
        </g>
      ))}
    </svg>
  );
}

export default function App() {
  return (
    <div
      style={{
        position: "absolute",
        left: 0,
        top: 0,
        width: 1059,
        height: 838,
        overflow: "hidden",
        background: "#fff",
      }}
    >
      {PANELS.map((p) => (
        <PdosPanel key={`${p.col}-${p.row}`} p={p} />
      ))}
      <Annotations />
    </div>
  );
}
